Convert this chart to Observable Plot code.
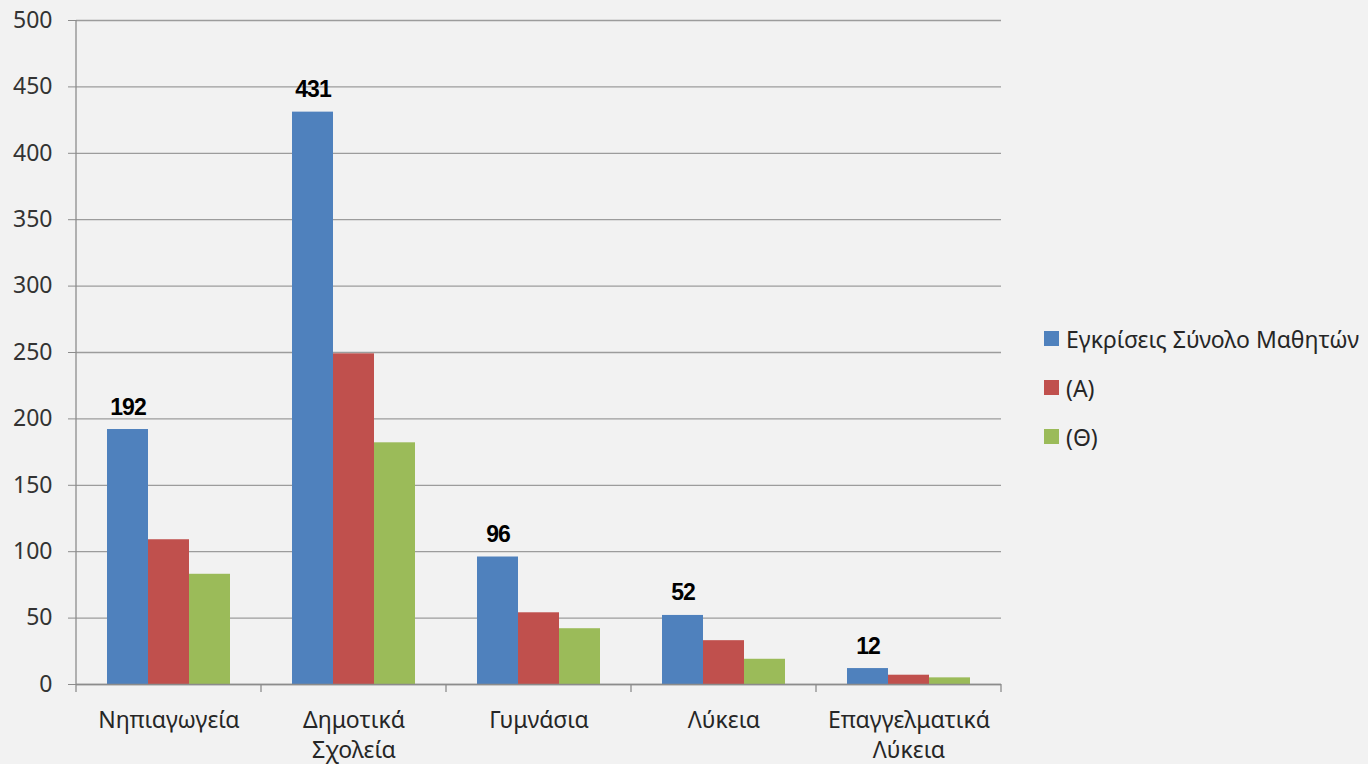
<!DOCTYPE html>
<html><head><meta charset="utf-8">
<script src="https://cdn.jsdelivr.net/npm/d3@7"></script>
<script src="https://cdn.jsdelivr.net/npm/@observablehq/plot@0.6"></script>
<style>
html,body{margin:0;padding:0;background:#f2f2f2;}
#wrap{position:relative;width:1368px;height:764px;overflow:hidden;background:#f2f2f2;}
#legend{position:absolute;left:1044px;top:314px;font-family:"Noto Sans",sans-serif;font-size:23px;color:#262626;}
.item{display:flex;align-items:center;height:49px;white-space:nowrap;}
.sw{width:15px;height:15px;margin-right:7px;flex:none;}
g[aria-label="text"] text{letter-spacing:-1px;}
</style></head><body><div id="wrap"></div>
<script>
const categories = ["Νηπιαγωγεία", "Δημοτικά Σχολεία", "Γυμνάσια", "Λύκεια", "Επαγγελματικά Λύκεια"];
const categoryLabels = ["Νηπιαγωγεία", "Δημοτικά\nΣχολεία", "Γυμνάσια", "Λύκεια", "Επαγγελματικά\nΛύκεια"];
const seriesNames = ["Εγκρίσεις Σύνολο Μαθητών", "(Α)", "(Θ)"];
const totalValues = [192, 431, 96, 52, 12];
const aValues = [109, 249, 54, 33, 7];
const thetaValues = [83, 182, 42, 19, 5];
const seriesColors = ["#4f81bd", "#c0504d", "#9bbb59"];
const yTicks = [0, 50, 100, 150, 200, 250, 300, 350, 400, 450, 500];

const seriesValues = [totalValues, aValues, thetaValues];
const rows = [];
categories.forEach((c, i) => seriesValues.forEach((arr, j) => rows.push({category: c, series: seriesNames[j], value: arr[i]})));
const labelMap = new Map(categories.map((c, i) => [c, categoryLabels[i]]));

const plot = Plot.plot({
  width: 1368, height: 764,
  marginLeft: 76, marginRight: 367, marginTop: 20, marginBottom: 80,
  style: {background: "#f2f2f2", fontFamily: "'Noto Sans', sans-serif", fontSize: "23px", color: "#333333"},
  fx: {domain: categories, padding: 0, label: null, axis: null},
  x: {domain: seriesNames, paddingInner: 0, paddingOuter: 0.756, axis: null},
  y: {domain: [0, 500], label: null},
  color: {domain: seriesNames, range: seriesColors},
  marks: [
    Plot.gridY(yTicks, {stroke: "#9c9c9c", strokeOpacity: 1, strokeWidth: 1.3}),
    Plot.axisY(yTicks, {tickSize: 8, tickPadding: 16, label: null, stroke: "#8c8c8c", fill: "#333333", fontSize: 23}),
    Plot.axisFx({anchor: "bottom", tickSize: 0, tickPadding: 22, label: null, tickFormat: d => labelMap.get(d), lineHeight: 1.3, fill: "#262626", fontSize: 23}),
    Plot.barY(rows, {fx: "category", x: "series", y: "value", fill: "series", inset: 0}),
    Plot.ruleY([0], {stroke: "#8c8c8c", strokeWidth: 1.3}),
    Plot.text(rows.filter(d => d.series === seriesNames[0]), {
      fx: "category", x: "series", y: "value", text: d => String(d.value),
      lineAnchor: "bottom", dy: -15, fontWeight: "bold", fontSize: 23,
      fontFamily: "'Liberation Sans Narrow', 'Liberation Sans', sans-serif", fill: "#000"
    })
  ]
});

document.getElementById("wrap").appendChild(plot);

// axis line and category separator ticks, positioned through the plot's scales
const fx = plot.scale("fx");
const y = plot.scale("y");
const svg = d3.select(plot);
const left = fx.apply(categories[0]);
const step = fx.bandwidth;
const y0 = y.apply(0), yTop = y.apply(500);
const g = svg.append("g").attr("stroke", "#8c8c8c").attr("stroke-width", 1.3);
g.append("line").attr("x1", left).attr("x2", left).attr("y1", yTop).attr("y2", y0 + 8);
categories.forEach(c => {
  const xe = fx.apply(c) + step;
  g.append("line").attr("x1", xe).attr("x2", xe).attr("y1", y0).attr("y2", y0 + 8);
});

const legend = d3.select("#wrap").append("div").attr("id", "legend");
seriesNames.forEach((s, i) => {
  const it = legend.append("div").attr("class", "item");
  it.append("div").attr("class", "sw").style("background", seriesColors[i]);
  it.append("span").text(s);
});
</script>
</body></html>
